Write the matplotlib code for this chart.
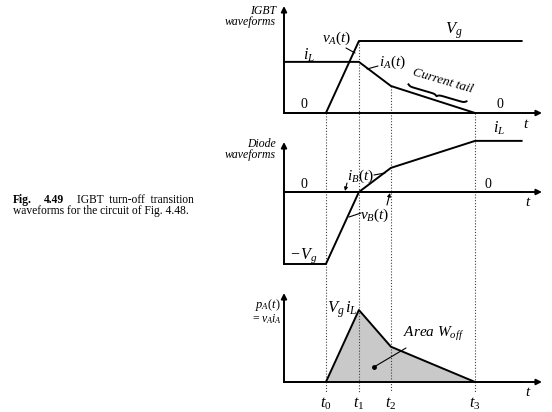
import numpy as np
import matplotlib
matplotlib.use('Agg')
import matplotlib.pyplot as plt

plt.rcParams['font.family'] = 'Liberation Serif'
plt.rcParams['mathtext.fontset'] = 'custom'
plt.rcParams['mathtext.it'] = 'Liberation Serif:italic'
plt.rcParams['mathtext.rm'] = 'Liberation Serif'
plt.rcParams['mathtext.bf'] = 'Liberation Serif:bold'

# ---------------- data (normalised: Vg = 1, time in arbitrary units) ----------------
t_names = [r'$t_0$', r'$t_1$', r'$t_2$', r'$t_3$']
t_marks = [1.27, 2.27, 3.24, 5.79]
times = [0.0, 1.27, 2.27, 3.24, 5.79, 7.2]
v_A = [0.0, 0.0, 1.0, 1.0, 1.0, 1.0]
i_A = [0.71, 0.71, 0.71, 0.375, 0.0, 0.0]
v_B = [-1.0, -1.0, 0.0, 0.0, 0.0, 0.0]
i_B = [0.0, 0.0, 0.0, 0.335, 0.71, 0.71]
p_A = [0.0, 0.0, 1.0, 0.49, 0.0, 0.0]
# level at which each dotted marker line starts (IGBT panel)
t_mark_top = [0.0, 1.0, 0.375, 0.0]

# ---------------- layout ----------------
W, H = 552, 412
XS, YS, X0 = 33.0, 72.0, 284.0           # px per unit, axis origin (px)
fig = plt.figure(figsize=(W / 100, H / 100), dpi=100)
ax = fig.add_axes([0, 0, 1, 1])
ax.set_xlim(-X0 / XS, (W - X0) / XS)
ax.set_ylim(0, H / YS)
ax.axis('off')


def P(x, y):
    """pixel position -> data position (for annotations)"""
    return ((x - X0) / XS, (H - y) / YS)


b_igbt = P(0, 113)[1]
b_diode = P(0, 192)[1]
b_power = P(0, 382)[1]
x_end = P(542, 0)[0]
y_bottom = P(0, 392)[1]

LW = 1.4
arrow_kw = dict(arrowstyle='-|>', mutation_scale=8, lw=LW, color='k',
                shrinkA=0, shrinkB=0)


def axis_arrow(x0, y0, x1, y1):
    ax.annotate('', xy=(x1, y1), xytext=(x0, y0), arrowprops=arrow_kw, zorder=4)


# axes of the three panels
axis_arrow(0, b_igbt, 0, P(0, 6)[1])
axis_arrow(0, b_igbt, x_end, b_igbt)
axis_arrow(0, b_diode - 1.0, 0, P(0, 142)[1])
axis_arrow(0, b_diode, x_end, b_diode)
axis_arrow(0, b_power, 0, P(0, 293)[1])
axis_arrow(0, b_power, x_end, b_power)

# dotted marker lines
for t, top in zip(t_marks, t_mark_top):
    ax.plot([t, t], [b_igbt + top, y_bottom], ls=(0, (1, 1.6)), lw=0.8,
            color='0.25', zorder=1)

# waveforms
tt = np.array(times)
ax.plot(tt, np.array(v_A) + b_igbt, color='k', lw=LW, zorder=3)
ax.plot(tt[:5], np.array(i_A[:5]) + b_igbt, color='k', lw=LW, zorder=3)
ax.plot(tt, np.array(v_B) + b_diode, color='k', lw=LW, zorder=3)
ax.plot(tt, np.array(i_B) + b_diode, color='k', lw=LW, zorder=3)
pp = np.array(p_A) + b_power
ax.fill_between(tt, b_power, pp, color='#c9c9c9', lw=0, zorder=0)
ax.plot(tt, pp, color='k', lw=LW, zorder=3)

# ---------------- texts ----------------
def txt(x, y, s, size=9, ha='center', va='center', **kw):
    ax.text(*P(x, y), s, fontsize=size, ha=ha, va=va, **kw)


it = dict(style='italic')
txt(276, 11, 'IGBT', 8.5, ha='right', **it)
txt(276, 22, 'waveforms', 8.5, ha='right', **it)
txt(276, 144, 'Diode', 8.5, ha='right', **it)
txt(276, 155, 'waveforms', 8.5, ha='right', **it)
txt(268, 305, r'$p_A(t)$', 9, ha='center')
txt(266, 319, r'$=v_A i_A$', 8.5, ha='center')

txt(454, 31, r'$V_g$', 12)
txt(309, 55, r'$i_L$', 11.5)
txt(337, 38, r'$v_A(t)$', 11)
txt(392, 62, r'$i_A(t)$', 11)
txt(304, 104, '0', 10)
txt(500, 104, '0', 10)
txt(526, 124, r'$t$', 11)

txt(499, 128, r'$i_L$', 11.5)
txt(304, 184, '0', 10)
txt(488, 184, '0', 10)
txt(528, 203, r'$t$', 11)
txt(360, 176, r'$i_B(t)$', 11)
txt(375, 215, r'$v_B(t)$', 11)
txt(304, 256, r'$-\,V_g$', 11.5)

txt(342, 310, r'$V_g\,i_L$', 12)
txt(434, 334, r'$Area\ W_{off}$', 11)
txt(528, 393, r'$t$', 11)
for t, name in zip(t_marks, t_names):
    ax.text(t, P(0, 404)[1], name, fontsize=11.5, ha='center', va='center')

# Current tail label + brace
ax.text(*P(443, 81), 'Current tail', fontsize=9.5, style='italic',
        rotation=-16.5, rotation_mode='anchor', ha='center', va='center')
p0 = np.array([408.0, 86.0])
p1 = np.array([466.0, 103.0])
L = np.linalg.norm(p1 - p0)
u = (p1 - p0) / L
n = np.array([u[1], -u[0]])           # points up on screen
s = np.linspace(0, L / 2, 60)
beta = 0.9
half = 1 / (1 + np.exp(-beta * (s - s[0]))) + 1 / (1 + np.exp(-beta * (s - s[-1])))
prof = np.concatenate([half, half[::-1]])
ss = np.concatenate([s, L - s[::-1]])
off = -3.5 * (prof - 1.0)
pts = p0[None, :] + ss[:, None] * u[None, :] + off[:, None] * n[None, :]
bx, by = P(pts[:, 0], pts[:, 1])
ax.plot(bx, by, color='k', lw=1.4, zorder=3)

# pointers
line_kw = dict(arrowstyle='-', lw=0.8, color='k', shrinkA=0, shrinkB=0)
small_arrow = dict(arrowstyle='-|>', mutation_scale=5, lw=0.8, color='k',
                   shrinkA=0, shrinkB=0)
ax.annotate('', xy=P(355, 53), xytext=P(346, 48), arrowprops=line_kw)
ax.annotate('', xy=P(367, 69), xytext=P(378, 66), arrowprops=line_kw)
ax.annotate('', xy=P(385, 173), xytext=P(374, 175), arrowprops=line_kw)
ax.annotate('', xy=P(345, 191), xytext=P(347, 183), arrowprops=small_arrow)
ax.annotate('', xy=P(349, 217), xytext=P(361, 213), arrowprops=line_kw)
ax.annotate('', xy=P(390, 193), xytext=P(387, 205), arrowprops=small_arrow)
ax.annotate('', xy=P(374, 367), xytext=P(406, 348), arrowprops=line_kw)
ax.plot(*P(374, 367), 'o', ms=2.5, color='k', zorder=4)

# caption
cap = dict(fontsize=8.3, va='center', ha='left', family='Liberation Serif')
fig.text(13 / W, 1 - 200 / H, 'Fig.', weight='bold', **cap)
fig.text(44 / W, 1 - 200 / H, '4.49', weight='bold', **cap)
fig.text(77 / W, 1 - 200 / H, 'IGBT  turn-off  transition', **cap)
fig.text(13 / W, 1 - 211 / H, 'waveforms for the circuit of Fig. 4.48.', **cap)

fig.savefig('out.png', dpi=100)
